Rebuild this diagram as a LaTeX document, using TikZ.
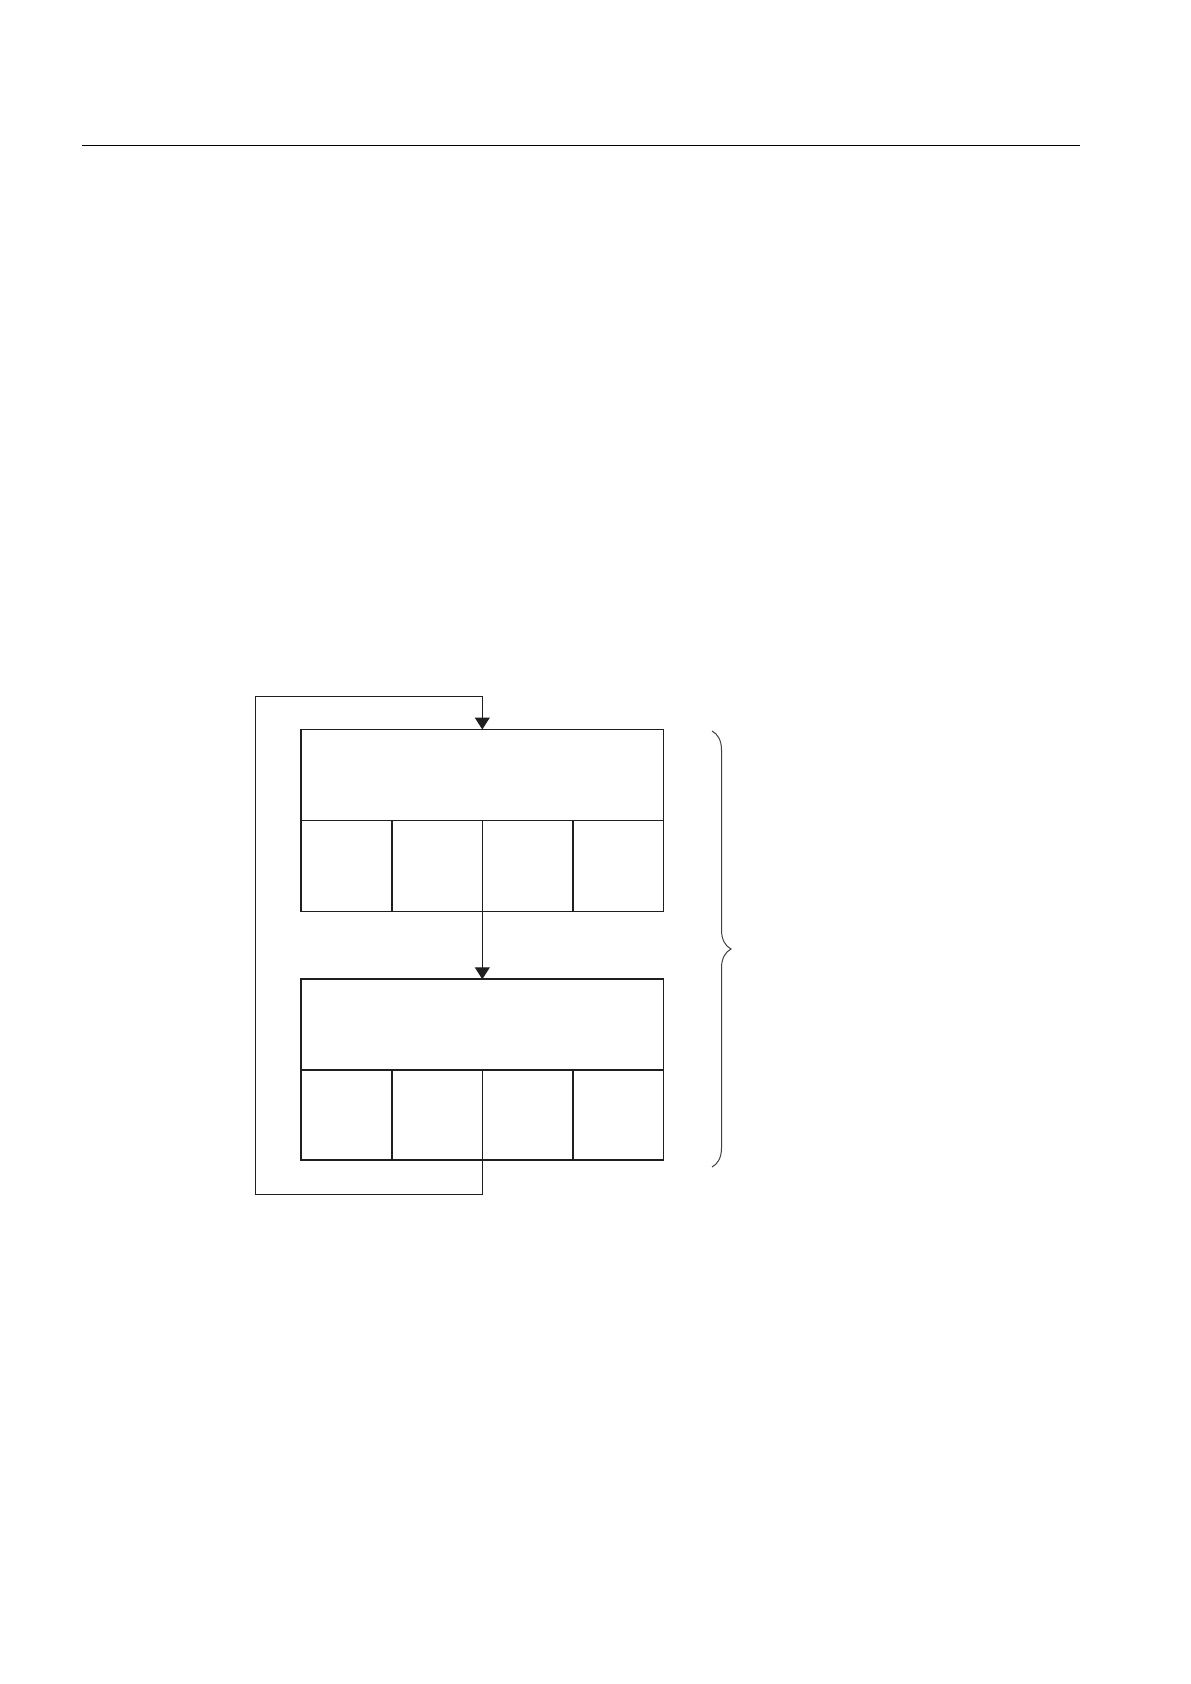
\documentclass[tikz,border=0pt]{standalone}
\usetikzlibrary{arrows.meta,decorations.pathreplacing}
\begin{document}
\begin{tikzpicture}[x=0.5pt,y=-0.5pt,
  thin line/.style={line width=0.6pt,draw=black!88},
  box line/.style={line width=0.8pt,draw=black!88},
  arr/.style={thin line,-{Triangle[width=7.5pt,length=6pt]}},
  cell/.style={box line,inner sep=0pt,outer sep=0pt},
  bracestyle/.style={line width=0.5pt,draw=black!75}]
\useasboundingbox (0,0) rectangle (1190,1684);
% top rule
\coordinate (r1) at (82,145.5);
\coordinate (r2) at (1080,145.5);
\draw[thin line,line width=0.7pt,draw=black] (r1) -- (r2);
% box 1
\node[cell,minimum width=362.6pt*0.5,minimum height=91pt*0.5] (h1) at (482.3,775) {};
\node[cell,minimum width=90.7pt*0.5,minimum height=91pt*0.5] (c11) at (346.3,866) {};
\node[cell,minimum width=90.6pt*0.5,minimum height=91pt*0.5] (c12) at (437,866) {};
\node[cell,minimum width=90.4pt*0.5,minimum height=91pt*0.5] (c13) at (527.5,866) {};
\node[cell,minimum width=90.6pt*0.5,minimum height=91pt*0.5] (c14) at (618,866) {};
% box 2
\node[cell,minimum width=362.6pt*0.5,minimum height=90.5pt*0.5] (h2) at (482.3,1024.5) {};
\node[cell,minimum width=90.7pt*0.5,minimum height=90.3pt*0.5] (c21) at (346.3,1115) {};
\node[cell,minimum width=90.6pt*0.5,minimum height=90.3pt*0.5] (c22) at (437,1115) {};
\node[cell,minimum width=90.4pt*0.5,minimum height=90.3pt*0.5] (c23) at (527.5,1115) {};
\node[cell,minimum width=90.6pt*0.5,minimum height=90.3pt*0.5] (c24) at (618,1115) {};
% arrow from box1 to box2
\draw[arr] (c12.south east) -- (c12.south east |- h2.north);
% feedback loop
\coordinate (lb) at (482.3,1194.3);
\coordinate (lbl) at (255.3,1194.3);
\coordinate (ltl) at (255.3,696.3);
\coordinate (lt) at (482.3,696.3);
\draw[thin line] (c22.south east) -- (c22.south east |- lb) -- (lbl) -- (ltl) -- (lt);
\draw[arr] (lt) -- (lt |- h1.north);
% brace
\coordinate (b1) at (712,731);
\coordinate (b2) at (712,1167);
\draw[bracestyle,decorate,decoration={brace,amplitude=10pt*0.5*1.9,raise=0pt}] (b1) -- (b2);
\end{tikzpicture}
\end{document}
